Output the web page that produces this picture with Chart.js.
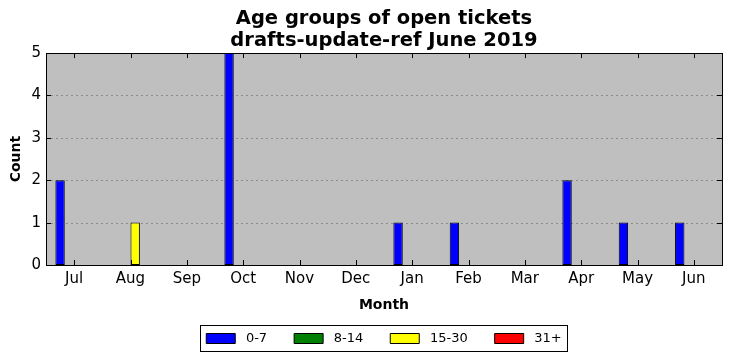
<!DOCTYPE html>
<html>
<head>
<meta charset="utf-8">
<script src="https://cdn.jsdelivr.net/npm/chart.js@4.4.0/dist/chart.umd.min.js"></script>
<style>
  html, body { margin: 0; padding: 0; background: #fff; }
  #wrap { width: 732px; height: 361px; }
</style>
</head>
<body>
<div id="wrap"><canvas id="ticketChart"></canvas></div>
<script>
// Maanden op de x-as
const months = ["Jul", "Aug", "Sep", "Oct", "Nov", "Dec", "Jan", "Feb", "Mar", "Apr", "May", "Jun"];

// Aantal open tickets per leeftijdsgroep
const age0to7 = [2, 0, 0, 5, 0, 0, 1, 1, 0, 2, 1, 1];
const age8to14 = [0, 0, 0, 0, 0, 0, 0, 0, 0, 0, 0, 0];
const age15to30 = [0, 1, 0, 0, 0, 0, 0, 0, 0, 0, 0, 0];
const age31plus = [0, 0, 0, 0, 0, 0, 0, 0, 0, 0, 0, 0];

const seriesLabels = ["0-7", "8-14", "15-30", "31+"];
const seriesColors = ["#0000ff", "#008000", "#ffff00", "#ff0000"];
const yTicks = [0, 1, 2, 3, 4, 5];

const FONT = "'DejaVu Sans', sans-serif";

// Grijze achtergrond, kader en naar binnen wijzende tickstreepjes
const framePlugin = {
  id: "frame",
  beforeDatasetsDraw(chart) {
    const a = chart.chartArea;
    const ctx = chart.ctx;
    ctx.save();
    ctx.fillStyle = "#bfbfbf";
    ctx.fillRect(a.left, a.top, a.right - a.left, a.bottom - a.top);
    // stippellijnen
    const y = chart.scales.y;
    ctx.strokeStyle = "#8c8c8c";
    ctx.lineWidth = 1;
    ctx.setLineDash([2, 3]);
    yTicks.slice(1, -1).forEach(v => {
      const py = Math.round(y.getPixelForValue(v)) + 0.5;
      ctx.beginPath();
      ctx.moveTo(a.left, py);
      ctx.lineTo(a.right, py);
      ctx.stroke();
    });
    ctx.restore();
  },
  afterDatasetsDraw(chart) {
    const a = chart.chartArea;
    const ctx = chart.ctx;
    const x = chart.scales.x;
    const y = chart.scales.y;
    ctx.save();
    ctx.strokeStyle = "#000";
    ctx.lineWidth = 1;
    ctx.setLineDash([]);
    ctx.strokeRect(Math.round(a.left) + 0.5, Math.round(a.top) + 0.5,
      Math.round(a.right - a.left), Math.round(a.bottom - a.top));
    ctx.beginPath();
    months.forEach((m, i) => {
      const px = Math.round(x.getPixelForValue(i)) + 0.5;
      ctx.moveTo(px, a.bottom);
      ctx.lineTo(px, a.bottom - 5);
      ctx.moveTo(px, a.top);
      ctx.lineTo(px, a.top + 5);
    });
    yTicks.forEach(v => {
      const py = Math.round(y.getPixelForValue(v)) + 0.5;
      ctx.moveTo(a.left, py);
      ctx.lineTo(a.left + 5, py);
      ctx.moveTo(a.right, py);
      ctx.lineTo(a.right - 5, py);
    });
    ctx.stroke();
    ctx.restore();
  },
  afterDraw(chart) {
    // kader rond de legenda
    const lg = chart.legend;
    if (!lg || !lg.legendHitBoxes.length) return;
    const boxes = lg.legendHitBoxes;
    const first = boxes[0];
    const last = boxes[boxes.length - 1];
    const ctx = chart.ctx;
    ctx.save();
    ctx.strokeStyle = "#000";
    ctx.lineWidth = 1;
    const left = Math.round(first.left) - 5.5;
    const right = Math.round(last.left + last.width) + 5.5;
    const top = Math.round(first.top) - 6.5;
    const bottom = Math.round(first.top + first.height) + 6.5;
    ctx.strokeRect(left, top, right - left, bottom - top);
    ctx.restore();
  }
};

const ctx = document.getElementById("ticketChart").getContext("2d");

new Chart(ctx, {
  type: "bar",
  data: {
    labels: months,
    datasets: [age0to7, age8to14, age15to30, age31plus].map((d, i) => ({
      label: seriesLabels[i],
      data: d,
      backgroundColor: seriesColors[i],
      borderColor: "#000",
      borderWidth: 1,
      borderSkipped: false,
      categoryPercentage: 0.667,
      barPercentage: 1.0
    }))
  },
  options: {
    responsive: true,
    maintainAspectRatio: false,
    devicePixelRatio: 1,
    animation: false,
    layout: { padding: { left: 0, right: 10, top: 0, bottom: 6 } },
    plugins: {
      title: {
        display: true,
        fullSize: false,
        text: ["Age groups of open tickets", "drafts-update-ref June 2019"],
        color: "#000",
        font: { family: FONT, size: 19.5, weight: "bold", lineHeight: 1.13 },
        padding: { top: 8, bottom: 1 }
      },
      legend: {
        display: true,
        fullSize: false,
        position: "bottom",
        labels: {
          color: "#000",
          font: { family: FONT, size: 13 },
          boxWidth: 29,
          boxHeight: 10,
          padding: 27,
          generateLabels(chart) {
            return seriesLabels.map((l, i) => ({
              text: "\u00a0" + l,
              fillStyle: seriesColors[i],
              strokeStyle: "#000",
              lineWidth: 1,
              datasetIndex: i,
              hidden: false
            }));
          }
        }
      },
      tooltip: { enabled: false }
    },
    scales: {
      x: {
        grid: { display: false, drawTicks: false },
        border: { display: false },
        ticks: { color: "#000", font: { family: FONT, size: 15 }, padding: 5, maxRotation: 0 },
        title: { display: true, text: "Month", color: "#000", font: { family: FONT, size: 14, weight: "bold" }, padding: { top: 0, bottom: -9 } },
        afterFit(scale) { scale.height = 40; }
      },
      y: {
        min: 0,
        max: 5,
        grid: { display: false, drawTicks: false },
        border: { display: false },
        ticks: { stepSize: 1, color: "#000", font: { family: FONT, size: 15 }, padding: 5 },
        title: { display: true, text: "Count", color: "#000", font: { family: FONT, size: 14, weight: "bold" }, padding: { top: 8, bottom: 0 } },
        afterFit(scale) { scale.width = 46; }
      }
    }
  },
  plugins: [framePlugin]
});
</script>
</body>
</html>
